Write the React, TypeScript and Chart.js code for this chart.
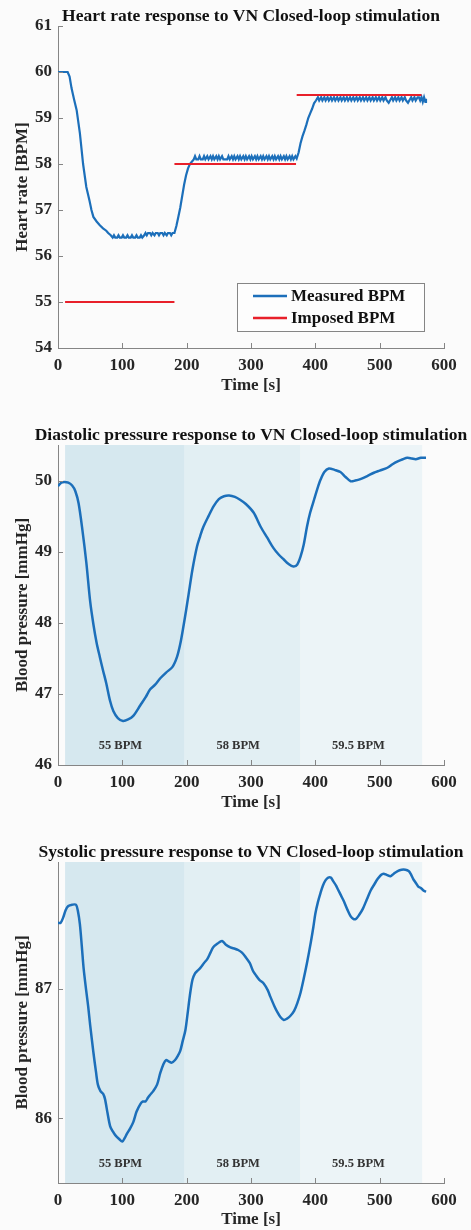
import React, { useEffect, useRef } from "react";
import { Chart, registerables } from "chart.js";

Chart.register(...registerables);

const FONT = '"Liberation Serif", "Times New Roman", serif';
const TEXT = "#262626";
const AXIS = "#858585";
const BLUE = "#1c6fba";
const RED = "#e8202a";
const PAGE_BG = "#fbfbfb";

const timeTicks = [0, 100, 200, 300, 400, 500, 600];

// ---- Heart rate (measured) ----
const hrSeconds = [
  0, 5, 10, 15, 18, 21, 25, 29, 34, 39,
  44, 49, 52, 55, 60, 65, 70, 75, 78, 82,
  85, 87, 89, 92, 94, 96, 99, 101, 103, 106,
  108, 110, 113, 115, 117, 120, 122, 124, 127, 129,
  131, 134, 136, 138, 140, 143, 145, 147, 150, 152,
  155, 157, 159, 162, 164, 166, 169, 171, 174, 176,
  178, 181, 184, 187, 190, 193, 196, 199, 202, 205,
  208, 211, 213, 215, 218, 220, 222, 225, 227, 229,
  232, 234, 237, 239, 241, 243, 246, 248, 250, 252,
  255, 257, 260, 263, 265, 267, 270, 272, 274, 276,
  279, 281, 283, 285, 288, 290, 292, 294, 297, 299,
  301, 303, 306, 308, 310, 312, 315, 317, 319, 321,
  324, 326, 328, 330, 333, 335, 337, 339, 342, 344,
  346, 348, 351, 353, 355, 357, 360, 362, 364, 366,
  369, 371, 374, 377, 380, 383, 386, 389, 392, 395,
  398, 401, 404, 406, 409, 411, 414, 416, 419, 421,
  424, 426, 429, 431, 434, 436, 439, 441, 444, 446,
  449, 451, 454, 456, 459, 461, 464, 466, 469, 471,
  474, 476, 479, 481, 484, 486, 489, 491, 494, 496,
  499, 501, 504, 506, 509, 511, 514, 516, 519, 521,
  524, 526, 529, 531, 534, 536, 539, 541, 544, 546,
  549, 551, 554, 556, 559, 561, 563, 565, 567, 569,
  571, 572,
];
const hrBpm = [
  60, 60, 60, 60, 59.9, 59.65, 59.4, 59.17, 58.67, 58.0,
  57.5, 57.2, 57.0, 56.85, 56.75, 56.67, 56.6, 56.55, 56.5, 56.45,
  56.4, 56.45, 56.4, 56.4, 56.45, 56.4, 56.4, 56.45, 56.4, 56.4,
  56.45, 56.4, 56.4, 56.45, 56.4, 56.4, 56.45, 56.4, 56.4, 56.45,
  56.4, 56.45, 56.5, 56.45, 56.5, 56.5, 56.45, 56.5, 56.45, 56.5,
  56.5, 56.45, 56.5, 56.5, 56.45, 56.5, 56.45, 56.5, 56.5, 56.45,
  56.5, 56.5, 56.65, 56.85, 57.05, 57.3, 57.55, 57.75, 57.9, 58.0,
  58.05, 58.1, 58.17, 58.1, 58.1, 58.17, 58.1, 58.1, 58.17, 58.1,
  58.17, 58.1, 58.17, 58.1, 58.17, 58.1, 58.17, 58.1, 58.17, 58.1,
  58.17, 58.1, 58.1, 58.1, 58.17, 58.1, 58.17, 58.1, 58.17, 58.1,
  58.17, 58.1, 58.17, 58.1, 58.17, 58.1, 58.17, 58.1, 58.17, 58.1,
  58.17, 58.1, 58.17, 58.1, 58.17, 58.1, 58.17, 58.1, 58.17, 58.1,
  58.17, 58.1, 58.17, 58.1, 58.17, 58.1, 58.17, 58.1, 58.17, 58.1,
  58.17, 58.1, 58.17, 58.1, 58.17, 58.1, 58.17, 58.1, 58.17, 58.1,
  58.17, 58.12, 58.25, 58.45, 58.6, 58.72, 58.85, 59.0, 59.1, 59.2,
  59.32, 59.38, 59.45, 59.38, 59.45, 59.38, 59.45, 59.38, 59.45, 59.38,
  59.45, 59.38, 59.45, 59.38, 59.45, 59.38, 59.45, 59.38, 59.45, 59.38,
  59.45, 59.38, 59.45, 59.38, 59.45, 59.38, 59.45, 59.38, 59.45, 59.38,
  59.45, 59.38, 59.45, 59.38, 59.45, 59.38, 59.45, 59.38, 59.45, 59.38,
  59.45, 59.38, 59.45, 59.38, 59.45, 59.38, 59.33, 59.38, 59.45, 59.38,
  59.45, 59.38, 59.45, 59.38, 59.45, 59.38, 59.45, 59.38, 59.33, 59.38,
  59.45, 59.38, 59.45, 59.38, 59.45, 59.45, 59.38, 59.45, 59.35, 59.45,
  59.35, 59.42,
];

// ---- Heart rate (imposed targets) ----
const imposedStart = [11, 181, 371];
const imposedEnd = [181, 370, 565];
const imposedBpm = [55, 58, 59.5];
const hrTicks = [54, 55, 56, 57, 58, 59, 60, 61];

// ---- Diastolic pressure ----
const diaSeconds = [
  0, 5, 10, 16, 22, 27, 32, 38, 44, 50,
  55, 60, 65, 70, 75, 81, 86, 93, 101, 109,
  117, 128, 136, 143, 151, 159, 168, 178, 185, 190,
  195, 199, 203, 209, 216, 221, 226, 234, 242, 250,
  258, 266, 275, 283, 292, 304, 315, 325, 335, 343,
  351, 358, 366, 372, 377, 382, 387, 392, 398, 403,
  408, 414, 421, 430, 439, 447, 455, 462, 470, 480,
  491, 500, 512, 520, 528, 536, 543, 550, 556, 564,
  572,
];
const diaMmHg = [
  49.92, 49.97, 49.98, 49.97, 49.93, 49.85, 49.68, 49.3, 48.85, 48.3,
  47.98, 47.72, 47.52, 47.33, 47.15, 46.9, 46.76, 46.66, 46.62, 46.64,
  46.69, 46.84, 46.95, 47.06, 47.13, 47.22, 47.3, 47.38, 47.52, 47.7,
  47.95, 48.17, 48.4, 48.75, 49.07, 49.22, 49.35, 49.5, 49.64, 49.74,
  49.78, 49.79, 49.77, 49.73, 49.67, 49.55, 49.35, 49.2, 49.05, 48.96,
  48.89, 48.83, 48.79, 48.82, 48.93, 49.1, 49.35, 49.55, 49.73, 49.88,
  50.01, 50.12, 50.17, 50.15, 50.12, 50.05, 49.99, 50.0, 50.02, 50.06,
  50.11, 50.14, 50.18, 50.23, 50.27, 50.3, 50.32, 50.31, 50.3, 50.32,
  50.32,
];
const diaTicks = [46, 47, 48, 49, 50];

// ---- Systolic pressure ----
const sysSeconds = [
  0, 4, 8, 12, 16, 22, 28, 31, 34, 37,
  40, 44, 47, 50, 55, 59, 62, 66, 70, 73,
  77, 81, 85, 89, 95, 100, 104, 107, 112, 117,
  122, 128, 132, 136, 140, 143, 148, 154, 159, 164,
  168, 172, 177, 182, 186, 190, 194, 198, 202, 205,
  209, 213, 217, 221, 227, 232, 237, 241, 248, 255,
  261, 268, 275, 280, 286, 291, 298, 303, 307, 313,
  320, 326, 330, 336, 341, 346, 351, 356, 361, 367,
  372, 377, 382, 387, 393, 397, 400, 404, 408, 412,
  416, 420, 424, 428, 432, 435, 440, 444, 450, 455,
  459, 463, 468, 474, 480, 486, 492, 497, 502, 506,
  511, 517, 522, 528, 534, 540, 545, 548, 552, 556,
  560, 564, 568, 572,
];
const sysMmHg = [
  87.51, 87.51, 87.55, 87.61, 87.64, 87.65, 87.65, 87.6, 87.5, 87.33,
  87.15, 86.98, 86.86, 86.72, 86.51, 86.36, 86.26, 86.21, 86.19, 86.15,
  86.04, 85.94, 85.9, 85.87, 85.84, 85.82, 85.85, 85.88, 85.92, 85.97,
  86.05, 86.11, 86.13, 86.13, 86.16, 86.18, 86.21, 86.26, 86.35, 86.42,
  86.45, 86.44, 86.43, 86.45, 86.48, 86.52, 86.6, 86.68, 86.83, 86.95,
  87.07, 87.12, 87.14, 87.16, 87.2, 87.23, 87.28, 87.32, 87.35, 87.37,
  87.34, 87.32, 87.31, 87.3, 87.28, 87.25, 87.2, 87.14, 87.11, 87.07,
  87.04, 86.99, 86.94, 86.87, 86.82, 86.78, 86.76, 86.77, 86.79, 86.83,
  86.89, 86.97, 87.08, 87.2, 87.36, 87.48, 87.58, 87.67, 87.74, 87.8,
  87.84, 87.86, 87.86, 87.83, 87.8, 87.77, 87.72, 87.68, 87.61, 87.56,
  87.54, 87.54, 87.57, 87.62, 87.69, 87.76, 87.81, 87.85, 87.88, 87.89,
  87.88, 87.87, 87.89, 87.91, 87.92, 87.92, 87.91, 87.89, 87.85, 87.82,
  87.79, 87.78, 87.76, 87.75,
];
const sysTicks = [86, 87];

// ---- Stimulation phases (shaded bands) ----
const phaseStart = [11, 197, 377];
const phaseEnd = [197, 377, 566];
const phaseLabel = ["55 BPM", "58 BPM", "59.5 BPM"];
const phaseLabelAt = [97, 280, 467];
const phaseFill = ["#d6e8ef", "#e2eff3", "#ecf4f7"];

const zip = (xs: number[], ys: number[]) => xs.map((x, i) => ({ x, y: ys[i] }));

function imposedPoints() {
  const pts: { x: number; y: number | null }[] = [];
  imposedStart.forEach((s, i) => {
    if (i > 0) pts.push({ x: s, y: null });
    pts.push({ x: s, y: imposedBpm[i] });
    pts.push({ x: imposedEnd[i], y: imposedBpm[i] });
  });
  return pts;
}

type Spec = {
  top: number;
  height: number;
  plotTop: number;
  plotBottom: number;
  title: string;
  yTitle: string;
  yMin: number;
  yMax: number;
  yTicks: number[];
  datasets: any[];
  phases: boolean;
  legend: boolean;
};

const fontBold = (size: number) => ({ family: FONT, size, weight: "bold" as const });

function makePlugin(spec: Spec) {
  return {
    id: "decor",
    beforeDraw(chart: any) {
      const { ctx, chartArea: a, scales } = chart;
      const x = scales.x;
      if (!spec.phases) return;
      ctx.save();
      phaseStart.forEach((s, i) => {
        const x0 = x.getPixelForValue(s);
        const x1 = x.getPixelForValue(phaseEnd[i]);
        ctx.fillStyle = phaseFill[i];
        ctx.fillRect(x0, a.top, x1 - x0, a.bottom - a.top);
      });
      ctx.font = `bold 12.5px ${FONT}`;
      ctx.fillStyle = "#333333";
      ctx.textAlign = "center";
      ctx.textBaseline = "middle";
      phaseLabel.forEach((t, i) => {
        ctx.fillText(t, x.getPixelForValue(phaseLabelAt[i]), a.bottom - 19);
      });
      ctx.restore();
    },
    afterDraw(chart: any) {
      const { ctx, chartArea: a, scales } = chart;
      const x = scales.x;
      const y = scales.y;
      ctx.save();
      // inward tick marks
      ctx.strokeStyle = AXIS;
      ctx.lineWidth = 1;
      ctx.beginPath();
      x.ticks.forEach((t: any) => {
        const px = Math.round(x.getPixelForValue(t.value)) + 0.5;
        ctx.moveTo(px, a.bottom);
        ctx.lineTo(px, a.bottom - 5);
      });
      y.ticks.forEach((t: any) => {
        const py = Math.round(y.getPixelForValue(t.value)) + 0.5;
        ctx.moveTo(a.left, py);
        ctx.lineTo(a.left + 5, py);
      });
      ctx.stroke();
      // title
      ctx.font = `bold 17.5px ${FONT}`;
      ctx.fillStyle = "#111111";
      ctx.textAlign = "center";
      ctx.textBaseline = "middle";
      ctx.fillText(spec.title, (a.left + a.right) / 2, a.top - 10);
      // legend
      if (spec.legend) {
        const bw = 187;
        const bh = 48;
        const bx = a.right - 20 - bw;
        const by = a.bottom - 17 - bh;
        ctx.fillStyle = "#fdfdfd";
        ctx.fillRect(bx, by, bw, bh);
        ctx.strokeStyle = AXIS;
        ctx.lineWidth = 1;
        ctx.strokeRect(Math.round(bx) + 0.5, Math.round(by) + 0.5, bw, bh);
        const items = [chart.data.datasets[1], chart.data.datasets[0]];
        ctx.font = `bold 17px ${FONT}`;
        ctx.fillStyle = "#111111";
        ctx.textAlign = "left";
        items.forEach((ds: any, i: number) => {
          const ly = by + 13 + i * 22;
          ctx.strokeStyle = ds.borderColor;
          ctx.lineWidth = 2.5;
          ctx.beginPath();
          ctx.moveTo(bx + 16, ly);
          ctx.lineTo(bx + 50, ly);
          ctx.stroke();
          ctx.fillText(ds.label, bx + 54, ly + 1);
        });
      }
      ctx.restore();
    },
  };
}

function Panel({ spec }: { spec: Spec }) {
  const ref = useRef<HTMLCanvasElement>(null);
  useEffect(() => {
    const xHeight = spec.height - spec.plotBottom;
    const titlePadBottom = Math.max(0, spec.height - spec.plotBottom - 38 - 10.2);
    const chart = new Chart(ref.current as HTMLCanvasElement, {
      type: "line",
      data: { datasets: spec.datasets },
      options: {
        animation: false,
        responsive: false,
        maintainAspectRatio: false,
        layout: { padding: { left: 0, right: 27, top: spec.plotTop, bottom: 0 } },
        plugins: {
          legend: { display: false },
          tooltip: { enabled: false },
          title: { display: false },
        },
        elements: { point: { radius: 0 } },
        scales: {
          x: {
            type: "linear",
            min: 0,
            max: 600,
            afterBuildTicks: (s: any) => {
              s.ticks = timeTicks.map((v) => ({ value: v }));
            },
            afterFit: (s: any) => {
              s.height = xHeight;
            },
            grid: { display: false, drawTicks: false },
            border: { display: true, color: AXIS, width: 1 },
            ticks: {
              padding: 7,
              color: TEXT,
              font: fontBold(17),
              maxRotation: 0,
              autoSkip: false,
            },
            title: {
              display: true,
              text: "Time [s]",
              color: TEXT,
              font: fontBold(17),
              padding: { top: 0, bottom: titlePadBottom },
            },
          },
          y: {
            type: "linear",
            min: spec.yMin,
            max: spec.yMax,
            afterBuildTicks: (s: any) => {
              s.ticks = spec.yTicks.map((v) => ({ value: v }));
            },
            afterFit: (s: any) => {
              s.width = 58;
            },
            grid: { display: false, drawTicks: false },
            border: { display: true, color: AXIS, width: 1 },
            ticks: { padding: 6, color: TEXT, font: fontBold(17) },
            title: {
              display: true,
              text: spec.yTitle,
              color: TEXT,
              font: fontBold(17),
              padding: { top: 12, bottom: 0 },
            },
          },
        },
      } as any,
      plugins: [makePlugin(spec) as any],
    });
    return () => chart.destroy();
  }, [spec]);
  return (
    <canvas
      ref={ref}
      width={471}
      height={spec.height}
      style={{ position: "absolute", left: 0, top: spec.top, width: 471, height: spec.height }}
    />
  );
}

const specs: Spec[] = [
  {
    top: 0,
    height: 400,
    plotTop: 26,
    plotBottom: 348,
    title: "Heart rate response to VN Closed-loop stimulation",
    yTitle: "Heart rate [BPM]",
    yMin: 54,
    yMax: 61,
    yTicks: hrTicks,
    phases: false,
    legend: true,
    datasets: [
      {
        label: "Imposed BPM",
        data: imposedPoints(),
        borderColor: RED,
        borderWidth: 2.2,
        spanGaps: false,
        tension: 0,
        order: 1,
      },
      {
        label: "Measured BPM",
        data: zip(hrSeconds, hrBpm),
        borderColor: BLUE,
        borderWidth: 2.2,
        tension: 0,
        order: 2,
      },
    ],
  },
  {
    top: 400,
    height: 415,
    plotTop: 45,
    plotBottom: 365,
    title: "Diastolic pressure response to VN Closed-loop stimulation",
    yTitle: "Blood pressure [mmHg]",
    yMin: 46,
    yMax: 50.5,
    yTicks: diaTicks,
    phases: true,
    legend: false,
    datasets: [
      {
        label: "Diastolic pressure",
        data: zip(diaSeconds, diaMmHg),
        borderColor: BLUE,
        borderWidth: 2.5,
        tension: 0.3,
      },
    ],
  },
  {
    top: 820,
    height: 410,
    plotTop: 42,
    plotBottom: 363,
    title: "Systolic pressure response to VN Closed-loop stimulation",
    yTitle: "Blood pressure [mmHg]",
    yMin: 85.5,
    yMax: 87.98,
    yTicks: sysTicks,
    phases: true,
    legend: false,
    datasets: [
      {
        label: "Systolic pressure",
        data: zip(sysSeconds, sysMmHg),
        borderColor: BLUE,
        borderWidth: 2.5,
        tension: 0.3,
      },
    ],
  },
];

export default function App() {
  return (
    <div
      style={{
        position: "absolute",
        left: 0,
        top: 0,
        width: 471,
        height: 1230,
        background: PAGE_BG,
        overflow: "hidden",
      }}
    >
      {specs.map((s, i) => (
        <Panel key={i} spec={s} />
      ))}
    </div>
  );
}
